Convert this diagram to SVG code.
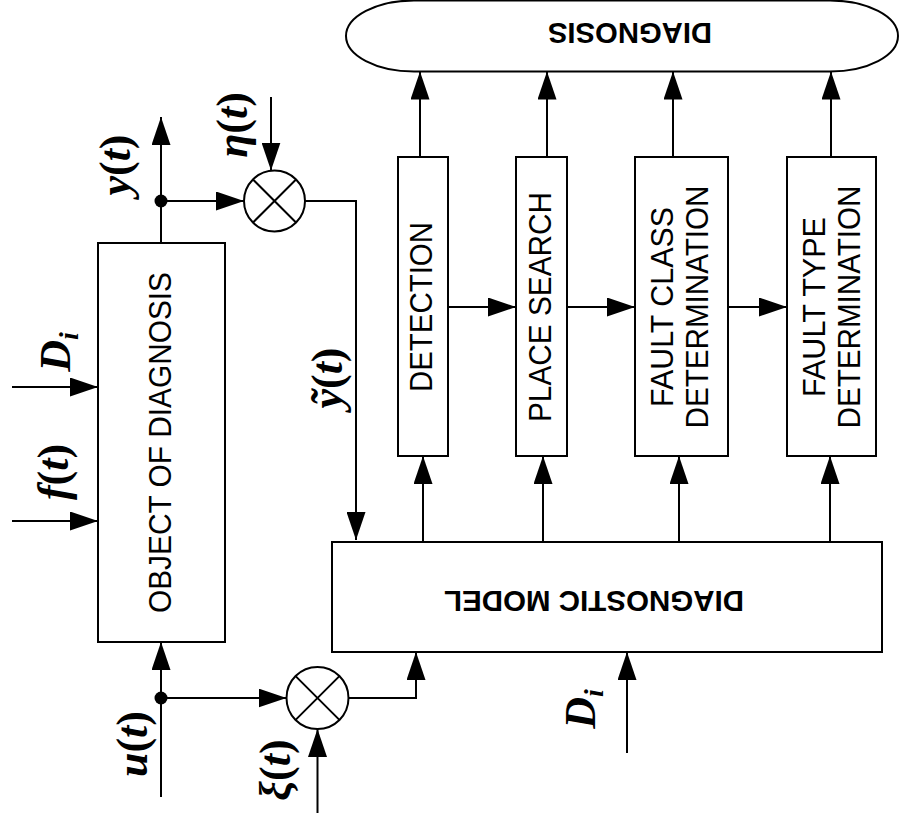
<svg xmlns="http://www.w3.org/2000/svg" width="899" height="825" viewBox="0 0 899 825">
<defs>
<marker id="ah" markerUnits="userSpaceOnUse" markerWidth="28" markerHeight="19" refX="28" refY="9.5" orient="auto"><path d="M0,0 L28,9.5 L0,19 z" fill="#000"/></marker>
</defs>
<style>
.box{fill:#fff;stroke:#000;stroke-width:2}
.ln{fill:none;stroke:#000;stroke-width:2}
.arr{fill:none;stroke:#000;stroke-width:2;marker-end:url(#ah)}
.lbl{font-family:"Liberation Sans",Arial,sans-serif;font-size:31px;text-anchor:middle;fill:#000}
.bold{font-weight:bold;font-size:29px}
.m{font-family:"Liberation Serif","Times New Roman",serif;font-size:44px;font-weight:bold;font-style:italic;text-anchor:middle;fill:#000}
.up{font-style:normal}
.sub{font-size:28px}
</style>
<rect width="899" height="825" fill="#fff"/>

<g id="diagnosis">
<rect class="box" x="346" y="0.5" width="552" height="71" rx="68" ry="35.5"/>
<text class="lbl bold" x="630" y="44" transform="rotate(180 630 33.5)" textLength="164" lengthAdjust="spacingAndGlyphs">DIAGNOSIS</text>
</g>

<g id="object">
<rect class="box" x="98" y="243" width="127" height="399"/>
<text class="lbl" x="171" y="442.5" transform="rotate(-90 171 442.5)" textLength="341" lengthAdjust="spacingAndGlyphs">OBJECT OF DIAGNOSIS</text>
</g>

<g id="detection">
<rect class="box" x="398" y="157" width="50" height="299"/>
<text class="lbl" x="432" y="307" transform="rotate(-90 432 307)" textLength="170" lengthAdjust="spacingAndGlyphs">DETECTION</text>
</g>

<g id="place-search">
<rect class="box" x="516" y="157" width="51" height="299"/>
<text class="lbl" x="551" y="307" transform="rotate(-90 551 307)" textLength="230" lengthAdjust="spacingAndGlyphs">PLACE SEARCH</text>
</g>

<g id="fault-class">
<rect class="box" x="635" y="157" width="93" height="299"/>
<text class="lbl" x="673" y="307" transform="rotate(-90 673 307)" textLength="200" lengthAdjust="spacingAndGlyphs">FAULT CLASS</text>
<text class="lbl" x="708" y="307" transform="rotate(-90 708 307)" textLength="243" lengthAdjust="spacingAndGlyphs">DETERMINATION</text>
</g>

<g id="fault-type">
<rect class="box" x="787" y="157" width="89" height="299"/>
<text class="lbl" x="825" y="307" transform="rotate(-90 825 307)" textLength="180" lengthAdjust="spacingAndGlyphs">FAULT TYPE</text>
<text class="lbl" x="860" y="307" transform="rotate(-90 860 307)" textLength="243" lengthAdjust="spacingAndGlyphs">DETERMINATION</text>
</g>

<g id="diagnostic-model">
<rect class="box" x="332" y="542" width="550" height="110"/>
<text class="lbl bold" x="594" y="612" transform="rotate(180 594 601.5)" textLength="300" lengthAdjust="spacingAndGlyphs">DIAGNOSTIC MODEL</text>
</g>

<g id="mult-top">
<circle class="box" cx="274.5" cy="201" r="30.5"/>
<path class="ln" d="M253,179.5 L296,222.5 M296,179.5 L253,222.5"/>
</g>

<g id="mult-bottom">
<circle class="box" cx="317.5" cy="698" r="31"/>
<path class="ln" d="M295.6,676.1 L339.4,719.9 M339.4,676.1 L295.6,719.9"/>
</g>

<g id="connectors">
<line class="arr" x1="161" y1="243" x2="161" y2="117"/>
<circle cx="161" cy="201" r="6.5" fill="#000"/>
<line class="arr" x1="161" y1="201" x2="244" y2="201"/>
<line class="arr" x1="271" y1="97" x2="271" y2="170.5"/>
<path class="arr" d="M305,201 H356 V540"/>
<line class="arr" x1="161" y1="797" x2="161" y2="642"/>
<circle cx="161" cy="698" r="6.5" fill="#000"/>
<line class="arr" x1="161" y1="698" x2="286.5" y2="698"/>
<line class="arr" x1="317.5" y1="813" x2="317.5" y2="729"/>
<path class="arr" d="M348.5,698 H416 V652"/>
<line class="arr" x1="627" y1="753" x2="627" y2="652"/>
<line class="arr" x1="12" y1="521" x2="98" y2="521"/>
<line class="arr" x1="12" y1="387" x2="98" y2="387"/>
<line class="arr" x1="423" y1="542" x2="423" y2="456"/>
<line class="arr" x1="543" y1="542" x2="543" y2="456"/>
<line class="arr" x1="679" y1="542" x2="679" y2="456"/>
<line class="arr" x1="830" y1="542" x2="830" y2="456"/>
<line class="arr" x1="420" y1="157" x2="420" y2="71.5"/>
<line class="arr" x1="547" y1="157" x2="547" y2="71.5"/>
<line class="arr" x1="673" y1="157" x2="673" y2="71.5"/>
<line class="arr" x1="831" y1="157" x2="831" y2="71.5"/>
<line class="arr" x1="448" y1="307" x2="516" y2="307"/>
<line class="arr" x1="567" y1="307" x2="635" y2="307"/>
<line class="arr" x1="728" y1="307" x2="787" y2="307"/>
</g>

<g id="labels">
<text class="m" x="130" y="165" transform="rotate(-90 130 165)">y<tspan class="up">(</tspan>t<tspan class="up">)</tspan></text>
<text class="m" x="247" y="125" transform="rotate(-90 247 125)">η<tspan class="up">(</tspan>t<tspan class="up">)</tspan></text>
<text class="m" x="342" y="378" transform="rotate(-90 342 378)">ỹ<tspan class="up">(</tspan>t<tspan class="up">)</tspan></text>
<text class="m" x="68" y="472" transform="rotate(-90 68 472)">f<tspan class="up">(</tspan>t<tspan class="up">)</tspan></text>
<text class="m" x="70" y="352" transform="rotate(-90 70 352)">D<tspan class="sub" dy="8">i</tspan></text>
<text class="m" x="147" y="744" transform="rotate(-90 147 744)">u<tspan class="up">(</tspan>t<tspan class="up">)</tspan></text>
<text class="m" x="290" y="770" transform="rotate(-90 290 770)">ξ<tspan class="up">(</tspan>t<tspan class="up">)</tspan></text>
<text class="m" x="595" y="709" transform="rotate(-90 595 709)">D<tspan class="sub" dy="8">i</tspan></text>
</g>
</svg>
